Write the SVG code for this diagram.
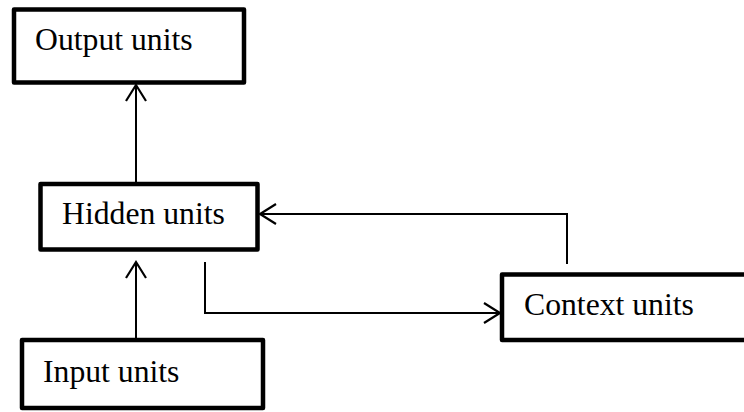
<svg xmlns="http://www.w3.org/2000/svg" width="744" height="412" viewBox="0 0 744 412">
<style>
.box{fill:#fff;stroke:#000;stroke-width:4.5;stroke-linejoin:round}
.lbl{font-family:"Liberation Serif","Times New Roman",serif;font-size:31.7px;fill:#000}
.conn{fill:none;stroke:#000;stroke-width:2}
</style>
<defs>
<marker id="ah" markerUnits="userSpaceOnUse" markerWidth="24" markerHeight="28" viewBox="-20 -14 24 28" refX="0" refY="0" orient="auto">
<path d="M-16,-10 L0,0 L-16,10" fill="none" stroke="#000" stroke-width="2.2"/>
</marker>
</defs>
<g id="output">
<rect class="box" x="14" y="9.5" width="230" height="73"/>
<text class="lbl" x="35" y="50">Output units</text>
</g>
<g id="hidden">
<rect class="box" x="40.5" y="184" width="217" height="65.5"/>
<text class="lbl" x="62" y="224">Hidden units</text>
</g>
<g id="context">
<rect class="box" x="502" y="274.5" width="260" height="65.5"/>
<text class="lbl" x="524" y="315">Context units</text>
</g>
<g id="input">
<rect class="box" x="22" y="340" width="241" height="68"/>
<text class="lbl" x="43" y="382">Input units</text>
</g>
<g id="connectors">
<line class="conn" x1="136" y1="183" x2="136" y2="85" marker-end="url(#ah)"/>
<line class="conn" x1="136" y1="338" x2="136" y2="262" marker-end="url(#ah)"/>
<polyline class="conn" points="567,264 567,214 260,214" marker-end="url(#ah)"/>
<polyline class="conn" points="205,262 205,313 500,313" marker-end="url(#ah)"/>
</g>
</svg>
